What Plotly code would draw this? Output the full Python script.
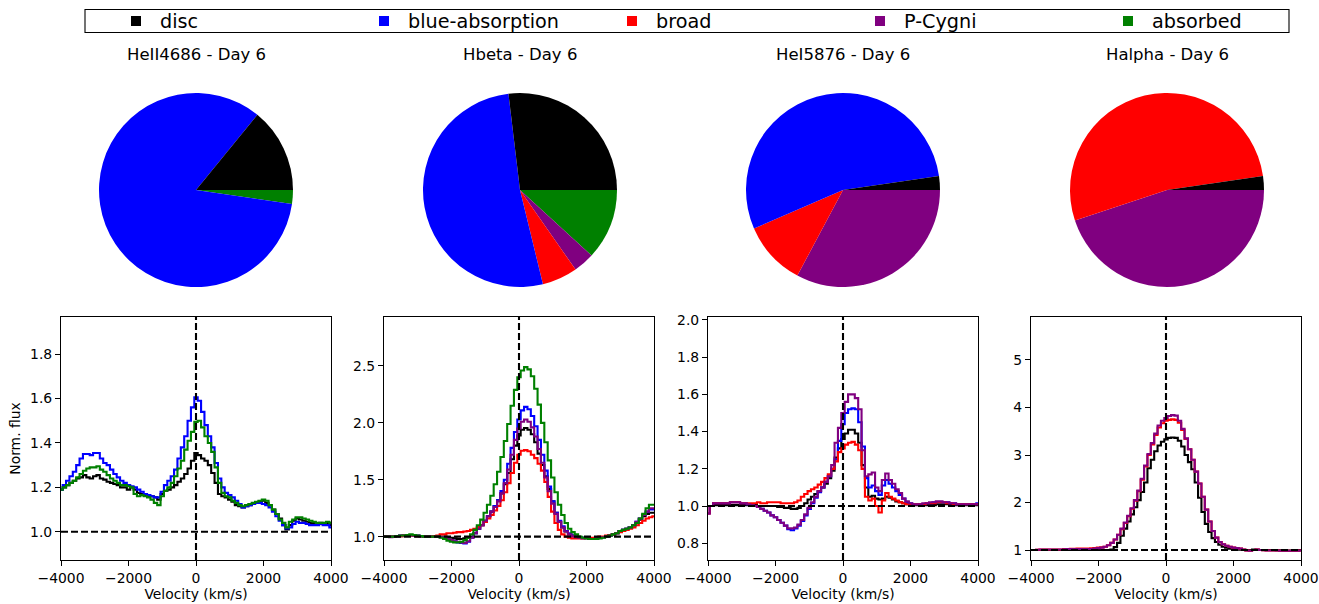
import plotly.graph_objects as go

# ---------------- data ----------------
VELOCITY = list(range(-4000, 4001, 100))
COMPONENTS = ["disc", "blue-absorption", "broad", "P-Cygni", "absorbed"]
COLORS = ["black", "blue", "red", "purple", "green"]
LINE_NAMES = ["HeII4686", "Hbeta", "HeI5876", "Halpha"]
DAY = 6

# pie fractions (%) in order of COMPONENTS
PIE_HEII4686 = [14.1, 83.6, 0.0, 0.0, 2.3]
PIE_HBETA = [26.9, 51.9, 5.9, 3.5, 11.8]
PIE_HEI5876 = [2.3, 54.2, 10.7, 32.8, 0.0]
PIE_HALPHA = [2.3, 0.0, 52.8, 44.9, 0.0]

# ---- HeII 4686 spectra ----
HEII_DISC = [1.19, 1.20, 1.21, 1.22, 1.23, 1.24, 1.245, 1.255, 1.245, 1.24,
             1.25, 1.255, 1.24, 1.235, 1.225, 1.22, 1.215, 1.21, 1.20, 1.20,
             1.19, 1.20, 1.19, 1.175, 1.17, 1.165, 1.16, 1.16, 1.155, 1.145,
             1.17, 1.185, 1.19, 1.20, 1.21, 1.225, 1.24, 1.26, 1.285, 1.32,
             1.355, 1.345, 1.33, 1.32, 1.30, 1.265, 1.22, 1.17, 1.16, 1.155,
             1.145, 1.135, 1.12, 1.115, 1.11, 1.115, 1.12, 1.125, 1.13, 1.135,
             1.14, 1.13, 1.12, 1.10, 1.08, 1.06, 1.03, 1.01, 1.03, 1.05,
             1.06, 1.055, 1.05, 1.045, 1.04, 1.04, 1.035, 1.04, 1.035, 1.04,
             1.03]
HEII_BLUE = [1.19, 1.21, 1.23, 1.25, 1.27, 1.30, 1.33, 1.35, 1.35, 1.345,
             1.355, 1.355, 1.33, 1.31, 1.30, 1.28, 1.26, 1.245, 1.23, 1.22,
             1.21, 1.205, 1.20, 1.19, 1.18, 1.17, 1.165, 1.16, 1.155, 1.155,
             1.18, 1.21, 1.23, 1.25, 1.28, 1.33, 1.38, 1.43, 1.50, 1.56,
             1.605, 1.59, 1.54, 1.48, 1.43, 1.38, 1.31, 1.24, 1.20, 1.175,
             1.165, 1.155, 1.14, 1.125, 1.11, 1.115, 1.12, 1.125, 1.13, 1.13,
             1.125, 1.12, 1.11, 1.09, 1.07, 1.05, 1.03, 1.015, 1.02, 1.035,
             1.045, 1.04, 1.04, 1.035, 1.03, 1.03, 1.03, 1.035, 1.03, 1.03,
             1.02]
HEII_ABSORBED = [1.19, 1.20, 1.21, 1.22, 1.23, 1.245, 1.26, 1.275, 1.285, 1.29,
                 1.29, 1.295, 1.28, 1.27, 1.255, 1.24, 1.23, 1.22, 1.21, 1.21,
                 1.205, 1.20, 1.17, 1.16, 1.165, 1.16, 1.155, 1.145, 1.13, 1.12,
                 1.16, 1.185, 1.20, 1.22, 1.25, 1.285, 1.32, 1.37, 1.41, 1.45,
                 1.495, 1.50, 1.47, 1.43, 1.40, 1.36, 1.29, 1.22, 1.175, 1.16,
                 1.155, 1.14, 1.13, 1.12, 1.115, 1.12, 1.125, 1.13, 1.135, 1.14,
                 1.145, 1.14, 1.12, 1.10, 1.08, 1.055, 1.04, 1.02, 1.045, 1.055,
                 1.065, 1.065, 1.06, 1.055, 1.05, 1.045, 1.04, 1.04, 1.04, 1.045,
                 1.04]

# ---- Hbeta spectra ----
HBETA_DISC = [1.0, 1.0, 1.0, 1.0, 1.005, 1.005, 1.01, 1.01, 1.01, 1.01,
              1.005, 1.005, 1.0, 1.0, 1.0, 1.0, 1.0, 1.0, 1.0, 0.995,
              0.99, 0.985, 0.98, 0.98, 0.985, 0.99, 1.0, 1.03, 1.07, 1.10,
              1.14, 1.18, 1.22, 1.27, 1.32, 1.38, 1.46, 1.56, 1.68, 1.80,
              1.89, 1.94, 1.955, 1.94, 1.90, 1.83, 1.73, 1.63, 1.53, 1.42,
              1.31, 1.21, 1.13, 1.08, 1.045, 1.02, 1.01, 1.0, 0.995, 0.99,
              0.99, 0.985, 0.985, 0.99, 0.99, 0.995, 1.0, 1.01, 1.02, 1.03,
              1.05, 1.06, 1.07, 1.08, 1.10, 1.12, 1.15, 1.18, 1.20, 1.21,
              1.21]
HBETA_BLUE = [1.0, 1.0, 1.0, 1.0, 1.005, 1.01, 1.01, 1.015, 1.015, 1.01,
              1.01, 1.005, 1.0, 1.0, 1.0, 1.0, 1.0, 0.995, 0.99, 0.98,
              0.97, 0.96, 0.95, 0.945, 0.94, 0.955, 0.99, 1.03, 1.07, 1.10,
              1.14, 1.18, 1.22, 1.27, 1.32, 1.40, 1.50, 1.64, 1.78, 1.92,
              2.03, 2.11, 2.14, 2.12, 2.06, 1.97, 1.85, 1.72, 1.58, 1.44,
              1.31, 1.21, 1.14, 1.09, 1.05, 1.03, 1.01, 1.0, 0.995, 0.99,
              0.99, 0.985, 0.985, 0.99, 0.99, 0.995, 1.0, 1.01, 1.02, 1.03,
              1.05, 1.06, 1.07, 1.08, 1.10, 1.13, 1.16, 1.19, 1.22, 1.24,
              1.24]
HBETA_BROAD = [1.0, 1.0, 1.0, 1.0, 1.005, 1.005, 1.01, 1.01, 1.01, 1.01,
               1.005, 1.005, 1.0, 1.0, 1.0, 1.005, 1.01, 1.02, 1.02, 1.03,
               1.03, 1.035, 1.04, 1.04, 1.045, 1.05, 1.06, 1.07, 1.085, 1.10,
               1.13, 1.16, 1.19, 1.23, 1.27, 1.32, 1.39, 1.47, 1.56, 1.65,
               1.72, 1.755, 1.76, 1.75, 1.72, 1.69, 1.64, 1.58, 1.48, 1.35,
               1.22, 1.12, 1.06, 1.02, 1.0, 0.99, 0.985, 0.985, 0.985, 0.985,
               0.99, 0.99, 0.99, 0.995, 1.0, 1.0, 1.01, 1.015, 1.02, 1.03,
               1.04, 1.05, 1.06, 1.07, 1.08, 1.10, 1.12, 1.14, 1.16, 1.17,
               1.18]
HBETA_PCYGNI = [1.0, 1.0, 0.995, 1.0, 1.005, 1.01, 1.01, 1.015, 1.015, 1.01,
                1.01, 1.005, 1.0, 1.0, 1.0, 1.0, 1.0, 0.995, 0.99, 0.98,
                0.97, 0.96, 0.955, 0.95, 0.945, 0.96, 0.99, 1.03, 1.07, 1.10,
                1.14, 1.18, 1.22, 1.26, 1.31, 1.38, 1.47, 1.59, 1.72, 1.85,
                1.95, 2.01, 2.03, 2.01, 1.96, 1.88, 1.77, 1.65, 1.52, 1.40,
                1.29, 1.20, 1.13, 1.08, 1.045, 1.02, 1.005, 0.995, 0.99, 0.985,
                0.985, 0.98, 0.98, 0.985, 0.99, 0.995, 1.0, 1.01, 1.02, 1.03,
                1.05, 1.06, 1.07, 1.08, 1.10, 1.13, 1.16, 1.19, 1.22, 1.25,
                1.25]
HBETA_ABSORBED = [1.0, 1.0, 1.0, 1.0, 1.005, 1.01, 1.01, 1.015, 1.02, 1.015,
                  1.01, 1.005, 1.0, 1.0, 1.0, 1.0, 1.0, 0.99, 0.98, 0.965,
                  0.955, 0.95, 0.95, 0.955, 0.97, 0.99, 1.02, 1.06, 1.10, 1.15,
                  1.21, 1.28, 1.36, 1.46, 1.57, 1.70, 1.84, 1.99, 2.15, 2.29,
                  2.40, 2.46, 2.49, 2.47, 2.41, 2.30, 2.16, 2.00, 1.83, 1.67,
                  1.52, 1.39, 1.28, 1.19, 1.12, 1.07, 1.04, 1.02, 1.0, 0.99,
                  0.985, 0.98, 0.98, 0.98, 0.985, 0.99, 1.0, 1.01, 1.02, 1.03,
                  1.05, 1.06, 1.07, 1.08, 1.10, 1.12, 1.16, 1.20, 1.25, 1.28,
                  1.28]

# ---- HeI 5876 spectra ----
HEI_DISC = [1.0, 1.0, 1.005, 1.005, 1.005, 1.005, 1.005, 1.005, 1.005, 1.005,
            1.005, 1.005, 1.005, 1.005, 1.005, 1.0, 1.0, 1.0, 1.0, 1.0,
            1.0, 0.995, 0.995, 0.99, 0.99, 0.985, 0.985, 0.99, 1.0, 1.015,
            1.035, 1.05, 1.065, 1.08, 1.10, 1.12, 1.15, 1.19, 1.26, 1.31,
            1.36, 1.39, 1.41, 1.41, 1.39, 1.34, 1.22, 1.10, 1.05, 1.055,
            1.04, 1.035, 1.04, 1.05, 1.045, 1.035, 1.025, 1.02, 1.015, 1.01,
            1.01, 1.005, 1.005, 1.005, 1.005, 1.005, 1.005, 1.005, 1.01, 1.01,
            1.01, 1.01, 1.005, 1.005, 1.005, 1.005, 1.005, 1.005, 1.005, 1.005,
            1.005]
HEI_BLUE = [0.96, 1.0, 1.015, 1.015, 1.015, 1.015, 1.015, 1.02, 1.02, 1.02,
            1.015, 1.015, 1.01, 1.005, 1.0, 0.995, 0.985, 0.975, 0.965, 0.95,
            0.94, 0.925, 0.91, 0.895, 0.875, 0.87, 0.88, 0.895, 0.92, 0.95,
            0.985, 1.015, 1.045, 1.075, 1.10, 1.13, 1.16, 1.20, 1.25, 1.35,
            1.44, 1.50, 1.52, 1.525, 1.52, 1.45, 1.32, 1.15, 1.10, 1.11,
            1.08, 1.06, 1.11, 1.14, 1.12, 1.10, 1.08, 1.06, 1.04, 1.02,
            1.015, 1.01, 1.01, 1.01, 1.01, 1.015, 1.015, 1.02, 1.02, 1.02,
            1.02, 1.02, 1.015, 1.015, 1.01, 1.01, 1.01, 1.01, 1.01, 1.01,
            1.015]
HEI_BROAD = [0.96, 1.0, 1.015, 1.015, 1.015, 1.015, 1.015, 1.02, 1.02, 1.02,
             1.015, 1.015, 1.015, 1.015, 1.015, 1.02, 1.015, 1.015, 1.02, 1.02,
             1.02, 1.02, 1.015, 1.015, 1.015, 1.015, 1.02, 1.03, 1.05, 1.065,
             1.08, 1.09, 1.10, 1.115, 1.13, 1.15, 1.17, 1.20, 1.24, 1.29,
             1.31, 1.33, 1.34, 1.345, 1.33, 1.30, 1.20, 1.05, 1.03, 1.04,
             1.0, 0.965, 1.03, 1.07, 1.05, 1.04, 1.03, 1.02, 1.015, 1.01,
             1.01, 1.01, 1.01, 1.01, 1.01, 1.015, 1.015, 1.015, 1.02, 1.02,
             1.02, 1.015, 1.015, 1.01, 1.01, 1.01, 1.01, 1.01, 1.01, 1.01,
             1.01]
HEI_PCYGNI = [0.96, 1.0, 1.015, 1.015, 1.015, 1.015, 1.015, 1.02, 1.02, 1.02,
              1.015, 1.015, 1.01, 1.005, 1.0, 0.995, 0.985, 0.975, 0.965, 0.95,
              0.94, 0.925, 0.91, 0.895, 0.88, 0.88, 0.885, 0.90, 0.925, 0.955,
              0.99, 1.02, 1.05, 1.08, 1.10, 1.13, 1.16, 1.22, 1.34, 1.42,
              1.50, 1.56, 1.60, 1.60, 1.58, 1.52, 1.30, 1.16, 1.17, 1.18,
              1.10, 1.08, 1.14, 1.175, 1.14, 1.12, 1.09, 1.07, 1.04, 1.025,
              1.015, 1.01, 1.01, 1.01, 1.015, 1.015, 1.02, 1.02, 1.025, 1.025,
              1.02, 1.02, 1.015, 1.015, 1.01, 1.01, 1.01, 1.01, 1.01, 1.01,
              1.01]

# ---- Halpha spectra ----
HALPHA_DISC = [1.0, 1.0, 1.0, 1.0, 1.0, 1.0, 1.0, 1.0, 1.0, 1.0,
               1.0, 1.0, 1.0, 1.0, 1.0, 1.0, 1.0, 1.0, 1.0, 1.0,
               1.0, 1.0, 1.0, 1.0, 1.01, 1.06, 1.15, 1.30, 1.45, 1.60,
               1.75, 1.90, 2.05, 2.22, 2.42, 2.72, 2.90, 3.08, 3.20, 3.28,
               3.33, 3.36, 3.37, 3.36, 3.30, 3.18, 3.00, 2.85, 2.70, 2.42,
               2.10, 1.80, 1.55, 1.38, 1.25, 1.17, 1.11, 1.07, 1.05, 1.03,
               1.02, 1.01, 1.005, 1.0, 1.0, 1.0, 1.01, 1.005, 1.0, 1.0,
               1.0, 1.0, 1.0, 0.995, 0.995, 0.99, 0.99, 0.99, 0.99, 0.995,
               1.0]
HALPHA_BROAD = [1.0, 1.0, 1.005, 1.01, 1.01, 1.01, 1.01, 1.01, 1.01, 1.01,
                1.02, 1.02, 1.025, 1.025, 1.03, 1.03, 1.03, 1.03, 1.035, 1.04,
                1.05, 1.055, 1.07, 1.10, 1.15, 1.22, 1.32, 1.44, 1.57, 1.71,
                1.87, 2.04, 2.24, 2.48, 2.76, 3.00, 3.22, 3.42, 3.58, 3.67,
                3.72, 3.74, 3.75, 3.74, 3.68, 3.53, 3.34, 3.12, 2.90, 2.65,
                2.40, 2.12, 1.85, 1.60, 1.40, 1.26, 1.17, 1.12, 1.09, 1.07,
                1.05, 1.04, 1.03, 1.01, 0.99, 0.985, 1.0, 1.01, 1.0, 0.995,
                0.99, 0.99, 0.99, 0.99, 0.985, 0.985, 0.985, 0.985, 0.985, 0.985,
                0.99]
HALPHA_PCYGNI = [1.0, 1.0, 1.005, 1.01, 1.01, 1.01, 1.01, 1.01, 1.01, 1.01,
                 1.015, 1.02, 1.02, 1.02, 1.02, 1.02, 1.02, 1.02, 1.02, 1.03,
                 1.04, 1.05, 1.07, 1.10, 1.15, 1.22, 1.32, 1.45, 1.58, 1.72,
                 1.88, 2.05, 2.25, 2.50, 2.78, 3.02, 3.25, 3.45, 3.62, 3.72,
                 3.78, 3.82, 3.84, 3.83, 3.72, 3.55, 3.35, 3.12, 2.90, 2.65,
                 2.40, 2.12, 1.85, 1.60, 1.40, 1.26, 1.17, 1.12, 1.09, 1.07,
                 1.05, 1.04, 1.03, 1.01, 0.99, 0.985, 1.0, 1.01, 1.0, 0.995,
                 0.99, 0.99, 0.99, 0.99, 0.985, 0.985, 0.985, 0.985, 0.985, 0.985,
                 0.99]

PANELS = [
    {"name": "HeII4686", "pie": PIE_HEII4686,
     "spectra": {"disc": HEII_DISC, "blue-absorption": HEII_BLUE, "absorbed": HEII_ABSORBED},
     "yrange": [0.873, 1.967], "yticks": [1.0, 1.2, 1.4, 1.6, 1.8], "yfmt": ".1f"},
    {"name": "Hbeta", "pie": PIE_HBETA,
     "spectra": {"disc": HBETA_DISC, "blue-absorption": HBETA_BLUE, "broad": HBETA_BROAD,
                 "P-Cygni": HBETA_PCYGNI, "absorbed": HBETA_ABSORBED},
     "yrange": [0.795, 2.93], "yticks": [1.0, 1.5, 2.0, 2.5], "yfmt": ".1f"},
    {"name": "HeI5876", "pie": PIE_HEI5876,
     "spectra": {"disc": HEI_DISC, "blue-absorption": HEI_BLUE, "broad": HEI_BROAD,
                 "P-Cygni": HEI_PCYGNI},
     "yrange": [0.71, 2.016], "yticks": [0.8, 1.0, 1.2, 1.4, 1.6, 1.8, 2.0], "yfmt": ".1f"},
    {"name": "Halpha", "pie": PIE_HALPHA,
     "spectra": {"disc": HALPHA_DISC, "broad": HALPHA_BROAD, "P-Cygni": HALPHA_PCYGNI},
     "yrange": [0.79, 5.905], "yticks": [1, 2, 3, 4, 5], "yfmt": "d"},
]

XTICKS = [-4000, -2000, 0, 2000, 4000]
XTICKTEXT = ["\u22124000", "\u22122000", "0", "2000", "4000"]
XRANGE = [-4000, 4000]

# ---------------- layout geometry (pixels) ----------------
W, H = 1319, 604
FONT = "DejaVu Sans"
PIE_CX = [196, 520, 843, 1167]
PIE_CY = 190
PIE_R = 97
AX_LEFT = [61, 384, 708, 1031]
AX_W = 270
AX_TOP, AX_BOT = 317, 560


def px_x(p):
    return p / W


def px_y(p):
    return 1 - p / H


fig = go.Figure()
layout = dict(
    width=W, height=H, margin=dict(l=0, r=0, t=0, b=0, autoexpand=False),
    paper_bgcolor="white", plot_bgcolor="white",
    font=dict(family=FONT, size=13.9, color="black"),
    showlegend=True, annotations=[], shapes=[],
)
color_of = dict(zip(COMPONENTS, COLORS))

for i, panel in enumerate(PANELS):
    n = "" if i == 0 else str(i + 1)
    # pie: matplotlib-style (first wedge from 3 o'clock, counter-clockwise)
    # == clockwise from 3 o'clock with the wedge order reversed
    cx = PIE_CX[i]
    fig.add_trace(go.Pie(
        labels=COMPONENTS[::-1], values=panel["pie"][::-1],
        marker=dict(colors=COLORS[::-1], line=dict(width=0)),
        sort=False, direction="clockwise", rotation=90,
        textinfo="none", hoverinfo="label+percent", showlegend=False,
        domain=dict(x=[px_x(cx - PIE_R), px_x(cx + PIE_R)],
                    y=[px_y(PIE_CY + PIE_R), px_y(PIE_CY - PIE_R)]),
    ))
    layout["annotations"].append(dict(
        text=f"{panel['name']} - Day {DAY}", x=px_x(cx), y=px_y(55),
        xref="paper", yref="paper", showarrow=False,
        font=dict(family=FONT, size=16.5, color="black"),
        xanchor="center", yanchor="middle"))

    # spectra
    for comp in COMPONENTS:
        if comp in panel["spectra"]:
            fig.add_trace(go.Scatter(
                x=VELOCITY, y=panel["spectra"][comp], mode="lines",
                line=dict(color=color_of[comp], width=2.1, shape="hvh"),
                xaxis="x" + n, yaxis="y" + n, showlegend=False, name=comp))

    left = AX_LEFT[i]
    layout["xaxis" + n] = dict(
        domain=[px_x(left), px_x(left + AX_W)], anchor="y" + n,
        range=XRANGE, tickvals=XTICKS, ticktext=XTICKTEXT, automargin=False,
        showline=True, mirror=True, linecolor="black", linewidth=1.1,
        ticks="outside", ticklen=5, tickwidth=1.1, tickcolor="black",
        showgrid=False, zeroline=False,
        tickfont=dict(family=FONT, size=13.9, color="black"),
        title=dict(text="Velocity (km/s)", standoff=4,
                   font=dict(family=FONT, size=13.9, color="black")),
    )
    ydict = dict(
        domain=[px_y(AX_BOT), px_y(AX_TOP)], anchor="x" + n, automargin=False,
        range=panel["yrange"], tickvals=panel["yticks"], tickformat=panel["yfmt"],
        showline=True, mirror=True, linecolor="black", linewidth=1.1,
        ticks="outside", ticklen=5, tickwidth=1.1, tickcolor="black",
        showgrid=False, zeroline=False,
        tickfont=dict(family=FONT, size=13.9, color="black"),
    )
    if i == 0:
        ydict["title"] = dict(text="Norm. flux", standoff=6,
                              font=dict(family=FONT, size=13.9, color="black"))
    layout["yaxis" + n] = ydict

    # reference lines
    layout["shapes"].append(dict(
        type="line", xref="x" + n, yref="y" + n, x0=XRANGE[0], x1=XRANGE[1], y0=1, y1=1,
        line=dict(color="black", width=2.1, dash="7px,3px")))
    layout["shapes"].append(dict(
        type="line", xref="x" + n, yref=f"y{n} domain", x0=0, x1=0, y0=0, y1=1,
        line=dict(color="black", width=2.1, dash="7px,3px")))

# legend: one legend per entry, placed along a framed strip
LEGEND_MARKER_X = [135, 383, 631, 879, 1127]
for k, (comp, col) in enumerate(zip(COMPONENTS, COLORS)):
    lg = "legend" if k == 0 else f"legend{k + 1}"
    fig.add_trace(go.Scatter(
        x=[None], y=[None], mode="markers", name=comp,
        marker=dict(symbol="square", size=10, color=col),
        showlegend=True, legend=lg, xaxis="x", yaxis="y"))
    layout[lg] = dict(
        x=px_x(LEGEND_MARKER_X[k] - 23), y=px_y(21), xanchor="left", yanchor="middle",
        orientation="h", bgcolor="rgba(0,0,0,0)", borderwidth=0, itemwidth=38,
        font=dict(family=FONT, size=19.2, color="black"))

layout["shapes"].append(dict(
    type="rect", xref="paper", yref="paper",
    x0=px_x(85), x1=px_x(1289), y0=px_y(32.5), y1=px_y(9.5),
    line=dict(color="black", width=1.1), fillcolor="rgba(0,0,0,0)"))

fig.update_layout(**layout)
fig.write_html("out.html")
